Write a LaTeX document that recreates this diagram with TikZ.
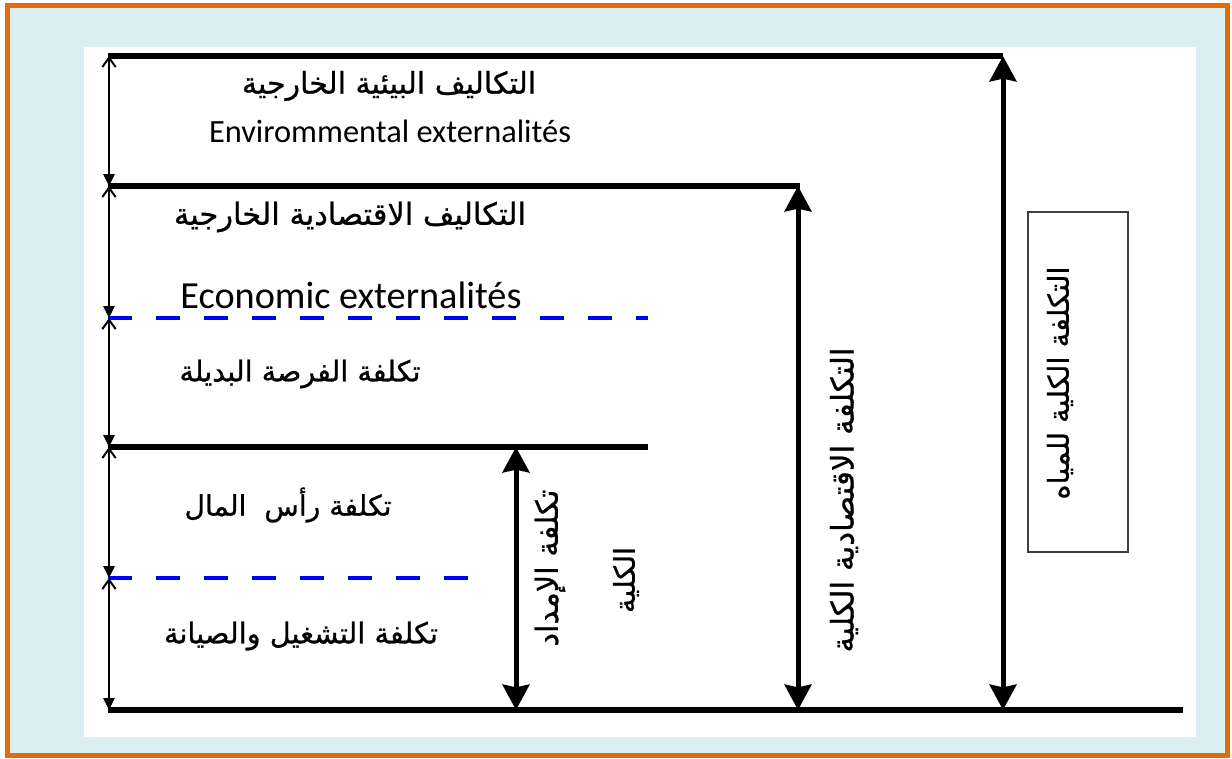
\documentclass[tikz,border=0pt]{standalone}
\usepackage{fontspec}
\usepackage{graphicx}
\setmainfont{Carlito}
\newfontfamily\arabicfont[Script=Arabic,FakeBold=0.8]{DejaVu Sans}
\TeXXeTstate=1
\usetikzlibrary{arrows.meta}
\definecolor{frameorange}{HTML}{E36C0A}
\definecolor{paleblue}{HTML}{DAEEF3}
\definecolor{dashblue}{HTML}{0000FF}
\definecolor{boxgray}{HTML}{404040}
\newcommand{\latext}[2]{\resizebox{#1}{!}{#2}}
\begin{document}
\begin{tikzpicture}[x=0.75pt,y=-0.75pt,
  thickline/.style={line width=4.5pt},
  thinarrow/.style={line width=1.5pt,{Straight Barb[length=7pt,width=10pt]}-{Triangle[length=9pt,width=8.5pt]}},
  bigarrow/.style={line width=3.75pt,{Stealth[length=19pt,width=20pt,inset=2pt]}-{Stealth[length=19pt,width=20pt,inset=2pt]}},
  blued/.style={draw=dashblue,line width=3pt,dash pattern=on 18pt off 18pt},
  lbl/.style={inner sep=0pt}]
\useasboundingbox (0,0) rectangle (1232,758);
% frame and backgrounds
\fill[white] (0,0) rectangle (1232,758);
\draw[frameorange,fill=paleblue,line width=3.75pt] (7,5.5) rectangle (1227,755.5);
\fill[white] (84,47) rectangle (1196,737);
% junction coordinates
\coordinate (l0) at (109,56);
\coordinate (l1) at (109,186);
\coordinate (l2) at (109,318);
\coordinate (l3) at (109,447);
\coordinate (l4) at (109,578);
\coordinate (l5) at (109,710);
\coordinate (h0a) at (108,56);   \coordinate (h0b) at (1003,56);
\coordinate (h1a) at (108,186);  \coordinate (h1b) at (800,186);
\coordinate (d1a) at (108,318);  \coordinate (d1b) at (648,318);
\coordinate (h2a) at (108,447);  \coordinate (h2b) at (648,447);
\coordinate (d2a) at (108,578);  \coordinate (d2b) at (468,578);
\coordinate (h3a) at (108,710);  \coordinate (h3b) at (1183,710);
\coordinate (s1) at (516,447);   \coordinate (s2) at (516,710);
\coordinate (e1) at (798,186);   \coordinate (e2) at (798,710);
\coordinate (w1) at (1003,56);   \coordinate (w2) at (1003,710);
% horizontal lines
\draw[thickline] (h0a) -- (h0b);
\draw[thickline] (h1a) -- (h1b);
\draw[thickline] (h2a) -- (h2b);
\draw[thickline] (h3a) -- (h3b);
\draw[blued] (d1a) -- (d1b);
\draw[blued] (d2a) -- (d2b);
% left thin arrows
\draw[thinarrow] (l0) -- (l1);
\draw[thinarrow] (l1) -- (l2);
\draw[thinarrow] (l2) -- (l3);
\draw[thinarrow] (l3) -- (l4);
\draw[thinarrow] (l4) -- (l5);
% big arrows
\draw[bigarrow] (s1) -- (s2);
\draw[bigarrow] (e1) -- (e2);
\draw[bigarrow] (w1) -- (w2);
% labels
\node[lbl] (a1) at (389,86) {\resizebox{220.5pt}{!}{\arabicfont\beginR التكاليف البيئية الخارجية\endR}};
\node[lbl] (en1) at (390,131) {\latext{271.5pt}{Envirommental externalités}};
\node[lbl] (a2) at (350,217) {\resizebox{264pt}{!}{\arabicfont\beginR التكاليف الاقتصادية الخارجية\endR}};
\node[lbl] (en2) at (351,295) {\latext{255.75pt}{Economic externalités}};
\node[lbl] (a3) at (300,374) {\resizebox{180.75pt}{!}{\arabicfont\beginR تكلفة الفرصة البديلة\endR}};
\node[lbl] (a4) at (288,505) {\resizebox{155.25pt}{!}{\arabicfont\beginR تكلفة رأس\ \ المال\endR}};
\node[lbl] (a5) at (301,636) {\resizebox{205.5pt}{!}{\arabicfont\beginR تكلفة التشغيل والصيانة\endR}};
\node[lbl,rotate=90] (v1) at (550,568) {\resizebox{117.75pt}{!}{\arabicfont\beginR تكلفة الإمداد\endR}};
\node[lbl,rotate=90] (v2) at (626,580) {\resizebox{49.5pt}{!}{\arabicfont\beginR الكلية\endR}};
\node[lbl,rotate=90] (v3) at (844,500) {\resizebox{228.75pt}{!}{\arabicfont\beginR التكلفة الاقتصادية الكلية\endR}};
\node[draw=boxgray,line width=1pt,minimum width=75pt,minimum height=255pt,inner sep=0pt] (box) at (1078,382) {};
\node[lbl,rotate=90] (v4) at (1060,383) {\resizebox{174.75pt}{!}{\arabicfont\beginR التكلفة الكلية للمياه\endR}};
\end{tikzpicture}
\end{document}
